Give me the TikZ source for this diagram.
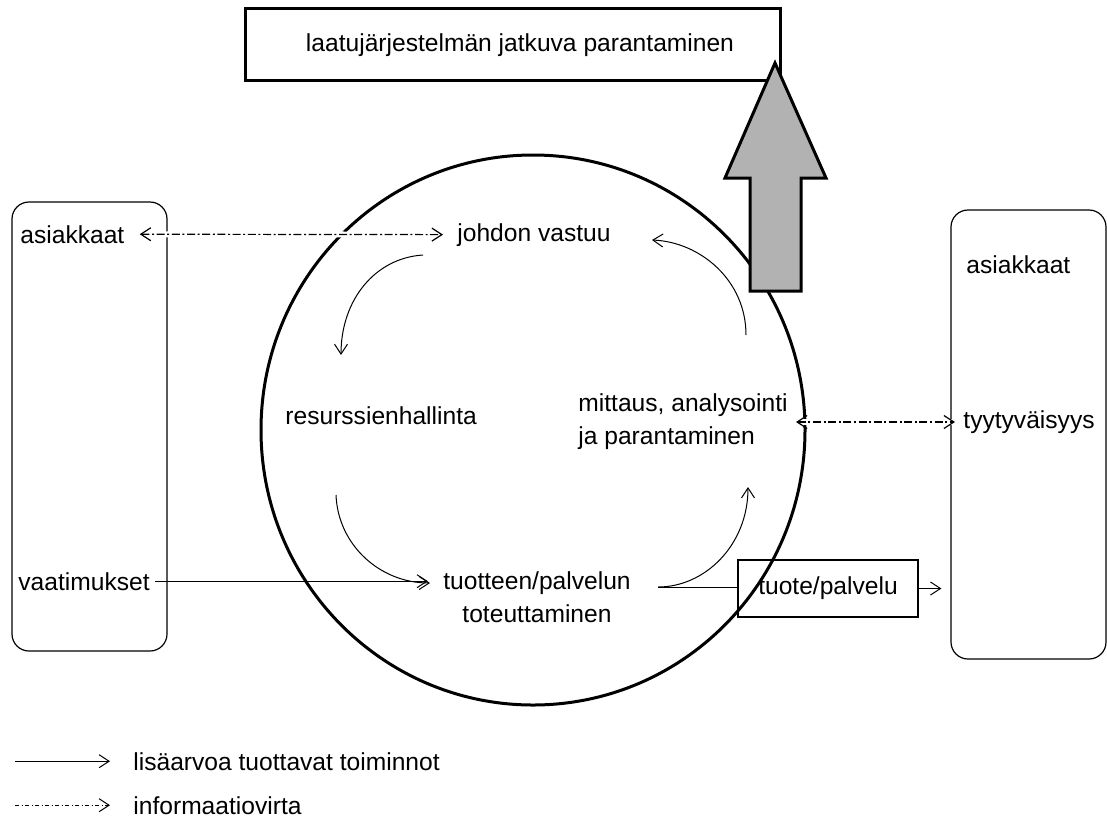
\documentclass[tikz,border=0pt]{standalone}
\usepackage{fontspec}
\setmainfont{Liberation Sans}
\usetikzlibrary{arrows.meta}
\tikzset{
	txt/.style={inner sep=0pt,font=\fontsize{12.3}{16.5}\selectfont},
	flow/.style={line width=0.5pt,-{Straight Barb[length=5pt,width=6.5pt]}},
	info/.style={line width=0.6pt,dash pattern=on 4pt off 1.3pt on 1pt off 1.3pt,
		{Straight Barb[length=5pt,width=6.5pt]}-{Straight Barb[length=5pt,width=6.5pt]},
		preaction={draw=white,solid,line width=3pt,-}},
	kund/.style={draw,line width=0.6pt,rounded corners=8.5pt,minimum width=77.5pt,minimum height=224.5pt},
}
\begin{document}
\begin{tikzpicture}[x=0.5pt,y=-0.5pt]
	\useasboundingbox (0,0) rectangle (1107,820);
	% customers on both sides
	\node[kund] (kL) at (89.5,426.5) {};
	\node[kund] (kR) at (1028.5,434.5) {};
	% the process circle
	\draw[line width=1.5pt] (533,430) ellipse [x radius=136pt,y radius=137.5pt];
	% improvement box and the big arrow
	\node[draw,line width=1.5pt,minimum width=267.5pt,minimum height=36pt] (top) at (512.5,44) {};
	\node[txt] (topt) at (520,45) {laatujärjestelmän jatkuva parantaminen};
	\draw[line width=1.5pt,fill=black!30] (775,63) -- (826,178) -- (801,178) -- (801,291)
		-- (750,291) -- (750,178) -- (725,178) -- cycle;
	% texts
	\node[txt,anchor=base west] (asL) at (20,243) {asiakkaat};
	\node[txt,anchor=base west] (vaat) at (18,590) {vaatimukset};
	\node[txt,anchor=base west] (asR) at (966,273) {asiakkaat};
	\node[txt,anchor=base west] (tyyt) at (963,428) {tyytyväisyys};
	\node[txt,anchor=base west] (johto) at (457,241) {johdon vastuu};
	\node[txt,anchor=base west] (res) at (285,424) {resurssienhallinta};
	\node[txt,anchor=west,align=left] (mitt) at (578,422) {mittaus, analysointi\\ja parantaminen};
	\node[txt,align=center] (tuot) at (537,597) {tuotteen/palvelun\\toteuttaminen};
	\node[draw,line width=0.6pt,minimum width=90pt,minimum height=28.5pt,
		font=\fontsize{12.3}{16.5}\selectfont] (tuote) at (828,588.5) {tuote/palvelu};
	% cycle arrows
	\coordinate (a1) at (423,255);
	\coordinate (b1) at (341,355);
	\coordinate (a2) at (336,495);
	\coordinate (b2) at (430,583);
	\coordinate (a3) at (658,587);
	\coordinate (b3) at (748,487);
	\coordinate (a4) at (746,335);
	\coordinate (b4) at (652,240);
	\draw[flow] (a1) .. controls (375,258) and (341,300) .. (b1);
	\draw[flow] (a2) .. controls (338,545) and (380,583) .. (b2);
	\draw[flow] (a3) .. controls (705,587) and (748,545) .. (b3);
	\draw[flow] (a4) .. controls (746,280) and (700,242) .. (b4);
	% flows in and out
	\draw[flow,shorten <=2.5pt,shorten >=7.5pt] (vaat.east) -- (vaat.east -| tuot.west);
	\draw[line width=0.5pt] (a3) -- (a3 -| tuote.west);
	\draw[flow,shorten >=4.5pt] (tuote.east) -- (tuote.east -| kR.west);
	\draw[info,shorten <=7.5pt,shorten >=7pt] (asL.east) -- (johto.west);
	\draw[info,shorten <=4pt,shorten >=4pt] (mitt.east) -- (mitt.east -| tyyt.west);
	% legend
	\node[txt,anchor=base west] (leg1) at (133,770) {lisäarvoa tuottavat toiminnot};
	\node[txt,anchor=base west] (leg2) at (133,814) {informaatiovirta};
	\draw[flow] ([xshift=-59pt]leg1.west) -- ([xshift=-11.5pt]leg1.west);
	\draw[line width=0.5pt,dash pattern=on 2.2pt off 1.1pt on 0.6pt off 1.1pt,
		-{Straight Barb[length=5pt,width=6.5pt]}] ([xshift=-59pt]leg2.west) -- ([xshift=-11.5pt]leg2.west);
\end{tikzpicture}
\end{document}
